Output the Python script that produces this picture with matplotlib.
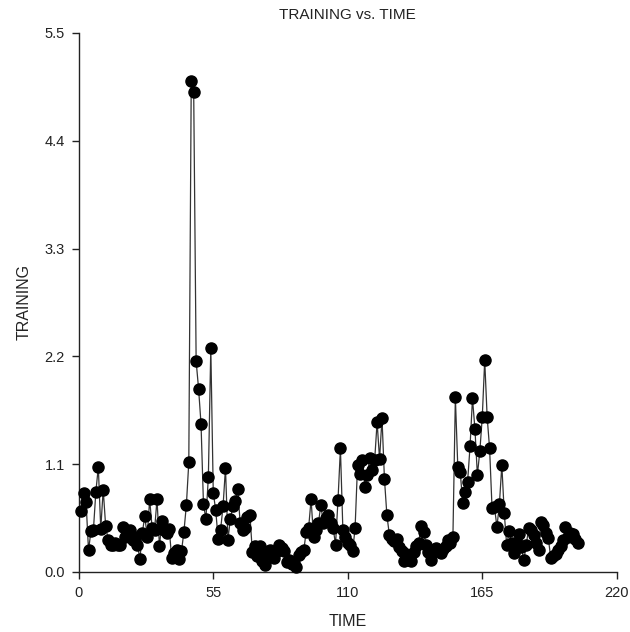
import numpy as np
import matplotlib
matplotlib.use("Agg")
import matplotlib.pyplot as plt

plt.rcParams['font.family'] = ['Liberation Sans', 'DejaVu Sans']

# training values, one per time step (1..204)
training = [
    0.62, 0.81, 0.71, 0.22, 0.42, 0.43, 0.82, 1.07, 0.44, 0.84,
    0.47, 0.33, 0.28, 0.27, 0.30, 0.28, 0.27, 0.46, 0.36, 0.40,
    0.43, 0.33, 0.36, 0.28, 0.13, 0.40, 0.57, 0.36, 0.74, 0.45,
    0.43, 0.74, 0.26, 0.52, 0.43, 0.40, 0.44, 0.14, 0.19, 0.22,
    0.13, 0.21, 0.41, 0.68, 1.12, 5.01, 4.90, 2.15, 1.87, 1.51,
    0.69, 0.54, 0.97, 2.29, 0.81, 0.63, 0.34, 0.43, 0.67, 1.06,
    0.33, 0.54, 0.67, 0.72, 0.85, 0.50, 0.43, 0.45, 0.56, 0.58,
    0.20, 0.26, 0.16, 0.26, 0.11, 0.07, 0.20, 0.22, 0.17, 0.14,
    0.21, 0.28, 0.24, 0.21, 0.10, 0.12, 0.08, 0.09, 0.05, 0.17,
    0.20, 0.22, 0.41, 0.45, 0.74, 0.36, 0.43, 0.50, 0.68, 0.50,
    0.55, 0.58, 0.50, 0.45, 0.28, 0.73, 1.26, 0.43, 0.36, 0.30,
    0.28, 0.21, 0.45, 1.09, 1.00, 1.14, 0.87, 0.99, 1.16, 1.04,
    1.14, 1.53, 1.15, 1.57, 0.95, 0.58, 0.38, 0.34, 0.32, 0.34,
    0.25, 0.21, 0.11, 0.18, 0.12, 0.11, 0.20, 0.26, 0.30, 0.47,
    0.41, 0.28, 0.20, 0.12, 0.20, 0.24, 0.22, 0.19, 0.23, 0.26,
    0.33, 0.30, 0.36, 1.78, 1.07, 1.02, 0.70, 0.82, 0.92, 1.28,
    1.77, 1.46, 0.99, 1.23, 1.58, 2.16, 1.58, 1.26, 0.65, 0.66,
    0.46, 0.69, 1.09, 0.60, 0.27, 0.42, 0.30, 0.19, 0.30, 0.39,
    0.25, 0.12, 0.28, 0.45, 0.43, 0.38, 0.30, 0.22, 0.51, 0.48,
    0.40, 0.35, 0.14, 0.16, 0.18, 0.22, 0.26, 0.33, 0.46, 0.36,
    0.40, 0.39, 0.34, 0.30,
]
time = np.arange(1, len(training) + 1)

x_ticks = [0, 55, 110, 165, 220]
y_ticks = [0.0, 1.1, 2.2, 3.3, 4.4, 5.5]

fig = plt.figure(figsize=(6.3, 6.32), dpi=100)
ax = fig.add_axes([0.125, 0.095, 0.854, 0.853])

ax.plot(time, training, color='#333333', linewidth=0.9,
        marker='o', markersize=8, markerfacecolor='black',
        markeredgecolor='black', zorder=3, clip_on=False)

ax.set_xlim(0, 220)
ax.set_ylim(0, 5.5)
ax.set_xticks(x_ticks)
ax.set_xticklabels([str(t) for t in x_ticks])
ax.set_yticks(y_ticks)
ax.set_yticklabels(['%.1f' % t for t in y_ticks])

for side in ['top', 'right']:
    ax.spines[side].set_visible(False)
for side in ['left', 'bottom']:
    ax.spines[side].set_color('#222222')
    ax.spines[side].set_linewidth(1.0)

ax.tick_params(axis='both', direction='out', length=5, width=1,
               colors='#222222', labelsize=10.5, pad=5)

ax.set_title("TRAINING vs. TIME", fontsize=11, color='#222222', pad=10)
ax.set_xlabel("TIME", fontsize=11.5, color='#222222', labelpad=10)
ax.set_ylabel("TRAINING", fontsize=11.5, color='#222222', labelpad=9)

fig.savefig("out.png", dpi=100)
